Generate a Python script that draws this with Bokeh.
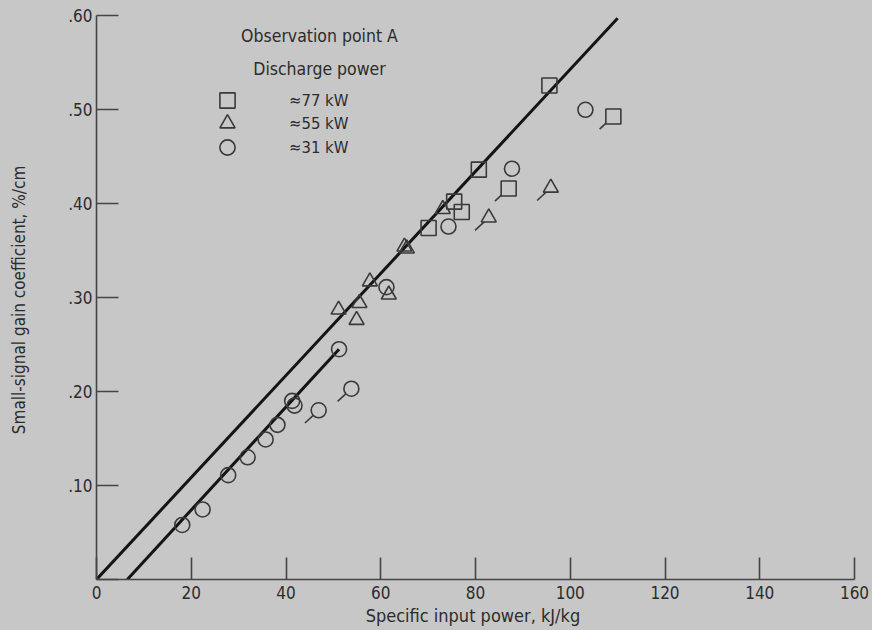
from bokeh.plotting import figure
from bokeh.models import (Range1d, FixedTicker, CustomJSTickFormatter, Label, Legend, LegendItem)
from bokeh.embed import file_html
from bokeh.resources import INLINE

# ---- data ----
# Discharge power ~77 kW (squares)
x77 = [70.1, 75.5, 77.1, 80.7, 87.0, 95.6, 109.1]
y77 = [0.374, 0.402, 0.391, 0.436, 0.416, 0.5255, 0.4926]
tag77 = [0, 0, 0, 0, 1, 0, 1]

# Discharge power ~55 kW (triangles)
x55 = [51.1, 54.9, 55.5, 57.7, 61.7, 65.0, 65.5, 73.1, 82.8, 95.9]
y55 = [0.287, 0.276, 0.294, 0.317, 0.303, 0.354, 0.352, 0.394, 0.385, 0.4167]
tag55 = [0, 0, 0, 0, 0, 0, 0, 0, 1, 1]

# Discharge power ~31 kW (circles)
x31 = [18.1, 22.4, 27.8, 31.9, 35.7, 38.2, 41.3, 41.8, 46.9, 51.2, 53.8, 61.2, 74.3, 87.7, 103.2]
y31 = [0.058, 0.0745, 0.111, 0.130, 0.149, 0.1645, 0.190, 0.185, 0.180, 0.245, 0.203, 0.311, 0.3755, 0.437, 0.4997]
tag31 = [0, 0, 0, 0, 0, 0, 0, 0, 1, 0, 1, 0, 0, 0, 0]

# faired lines
line_a_x = [0.0, 110.0]
line_a_y = [0.0, 0.597]
line_b_x = [6.5, 51.2]
line_b_y = [0.0, 0.245]

x_ticks = [0, 20, 40, 60, 80, 100, 120, 140, 160]
y_ticks = [0.0, 0.1, 0.2, 0.3, 0.4, 0.5, 0.6]

legend_labels = ["\u224877 kW", "\u224855 kW", "\u224831 kW"]

BG = "#c7c7c7"
INK = "#2c2c2c"
MK = "#3a3a3a"
FONT = "DejaVu Sans Condensed, Roboto, sans-serif"

p = figure(width=872, height=630, output_backend="svg", toolbar_location=None,
           x_range=Range1d(0, 160), y_range=Range1d(0, 0.6),
           min_border_left=96, min_border_right=18, min_border_top=15, min_border_bottom=51)
p.background_fill_color = BG
p.border_fill_color = BG
p.outline_line_color = None
p.grid.visible = False

for ax in (p.xaxis[0], p.yaxis[0]):
    ax.axis_line_color = "#454545"
    ax.axis_line_width = 1.6
    ax.major_tick_line_color = "#454545"
    ax.major_tick_line_width = 1.6
    ax.major_tick_in = 22
    ax.major_tick_out = 0
    ax.minor_tick_line_color = None
    ax.major_label_text_font = FONT
    ax.major_label_text_font_size = "17px"
    ax.major_label_text_color = INK
    ax.axis_label_text_font = FONT
    ax.axis_label_text_font_style = "normal"
    ax.axis_label_text_color = INK

p.xaxis.axis_label_text_font_size = "18px"
p.yaxis.axis_label_text_font_size = "17px"
p.xaxis.ticker = FixedTicker(ticks=x_ticks)
p.yaxis.ticker = FixedTicker(ticks=y_ticks)
p.xaxis.major_label_standoff = 6
p.yaxis.major_label_standoff = 4
p.yaxis.formatter = CustomJSTickFormatter(code="return tick == 0 ? '' : '.' + Math.round(tick*100);")
p.xaxis.axis_label = "Specific input power,  kJ/kg"
p.yaxis.axis_label = "Small-signal gain coefficient,  %/cm"
p.xaxis.axis_label_standoff = 3
p.yaxis.axis_label_standoff = 36

# faired lines
p.line(line_a_x, line_a_y, line_color="#141414", line_width=3)
p.line(line_b_x, line_b_y, line_color="#141414", line_width=3)

# tags (short flags to lower left)
DX, DY = 2.9, 0.0135
renderers = []
for xs, ys, tags, marker in ((x77, y77, tag77, "square"), (x55, y55, tag55, "triangle"), (x31, y31, tag31, "circle")):
    tx = [x for x, t in zip(xs, tags) if t]
    ty = [y for y, t in zip(ys, tags) if t]
    if tx:
        p.segment(tx, ty, [x - DX for x in tx], [y - DY for y in ty],
                  line_color=MK, line_width=1.6)
        p.scatter(tx, ty, marker=marker, size=15, line_color=None, fill_color=BG)
    r = p.scatter(xs, ys, marker=marker, size=15, line_color=MK, line_width=1.6, fill_alpha=0)
    renderers.append(r)

# one small legend per row so the rows sit close together
for (lab, r, ly) in zip(legend_labels, renderers, (460, 437, 413)):
    lg = Legend(items=[LegendItem(label=lab, renderers=[r])],
                location=(112, ly), padding=0, margin=0, spacing=0,
                glyph_width=38, glyph_height=38, label_height=22, label_standoff=43,
                label_text_font=FONT, label_text_font_size="16.5px", label_text_color=INK,
                border_line_color=None, background_fill_alpha=0)
    p.add_layout(lg, "center")

p.add_layout(Label(x=223, y=544, x_units="screen", y_units="screen", text="Observation point A",
                   text_align="center", text_baseline="middle", text_font=FONT,
                   text_font_size="17.5px", text_color=INK))
p.add_layout(Label(x=223, y=511, x_units="screen", y_units="screen", text="Discharge power",
                   text_align="center", text_baseline="middle", text_font=FONT,
                   text_font_size="17.5px", text_color=INK))

html = file_html(p, INLINE)
html = html.replace("<head>", "<head><style>body{background:%s}</style>" % BG, 1)
open("out.html", "w").write(html)
